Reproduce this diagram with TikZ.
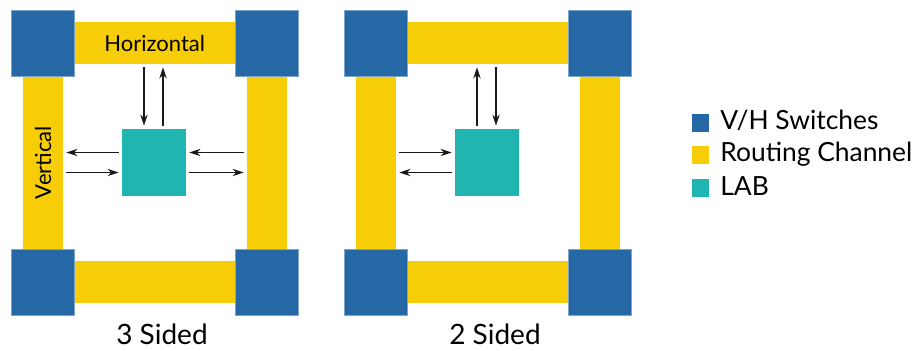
\documentclass[tikz,border=0pt]{standalone}
\usepackage{fontspec}
\setmainfont{Lato}
\usetikzlibrary{arrows.meta, positioning}

\definecolor{switchblue}{RGB}{38,104,165}
\definecolor{chanyellow}{RGB}{246,205,7}
\definecolor{labteal}{RGB}{32,181,176}

\begin{document}
\begin{tikzpicture}[
  x = 0.5pt, y = -0.5pt,
  switch/.style  = {rectangle, fill=switchblue, draw=switchblue!60!white, line width=0.3pt,
                    minimum width=31.5pt, minimum height=33pt, inner sep=0pt},
  hchan/.style   = {rectangle, fill=chanyellow, minimum width=112pt, minimum height=21pt,
                    inner sep=0pt, font=\fontsize{11}{13}\selectfont},
  vchan/.style   = {rectangle, fill=chanyellow, minimum width=20pt, minimum height=119pt,
                    inner sep=0pt, font=\fontsize{11}{13}\selectfont},
  lab/.style     = {rectangle, fill=labteal, minimum width=32pt, minimum height=33.5pt, inner sep=0pt},
  arr/.style     = {-{Stealth[length=5.5pt, width=3.6pt]}, line width=0.75pt, black!90,
                    shorten <=1.5pt, shorten >=1.5pt},
  key/.style     = {rectangle, minimum width=8.5pt, minimum height=9pt, inner sep=0pt},
  keytext/.style = {font=\fontsize{13.2}{16}\selectfont, inner sep=0pt, anchor=base west},
  caption/.style = {font=\fontsize{14}{16}\selectfont, inner sep=0pt, anchor=base}
]
\useasboundingbox (0,0) rectangle (912,351);

% ── 3 sided: routing channels ────────────────────────────────────────────────
\node[hchan] (topA)   at (154.75,43)  {Horizontal};
\node[hchan] (botA)   at (154.75,282) {};
\node[vchan] (leftA)  at (43,162.5)   {\rotatebox{90}{Vertical}};
\node[vchan] (rightA) at (267,162.5)  {};

% ── 3 sided: V/H switches ────────────────────────────────────────────────────
\node[switch] (swA1) at (43,43)     {};
\node[switch] (swA2) at (266.5,43)  {};
\node[switch] (swA3) at (43,282)    {};
\node[switch] (swA4) at (266.5,282) {};

% ── 3 sided: LAB and its connections ─────────────────────────────────────────
\node[lab] (labA) at (154,162.5) {};

\draw[arr] ([xshift=-5pt]labA.north |- topA.south) -- ([xshift=-5pt]labA.north);
\draw[arr] ([xshift=4.5pt]labA.north) -- ([xshift=4.5pt]labA.north |- topA.south);
\draw[arr] ([yshift=5pt]labA.west) -- ([yshift=5pt]labA.west -| leftA.east);
\draw[arr] ([yshift=-5pt]labA.west -| leftA.east) -- ([yshift=-5pt]labA.west);
\draw[arr] ([yshift=5pt]labA.east -| rightA.west) -- ([yshift=5pt]labA.east);
\draw[arr] ([yshift=-5pt]labA.east) -- ([yshift=-5pt]labA.east -| rightA.west);

\node[caption] (capA) at (162,345) {3 Sided};

% ── 2 sided: routing channels ────────────────────────────────────────────────
\node[hchan] (topB)   at (488,43)    {};
\node[hchan] (botB)   at (488,282)   {};
\node[vchan] (leftB)  at (376,162.5) {};
\node[vchan] (rightB) at (600,162.5) {};

% ── 2 sided: V/H switches ────────────────────────────────────────────────────
\node[switch] (swB1) at (376,43)  {};
\node[switch] (swB2) at (600,43)  {};
\node[switch] (swB3) at (376,282) {};
\node[switch] (swB4) at (600,282) {};

% ── 2 sided: LAB and its connections ─────────────────────────────────────────
\node[lab] (labB) at (487,162.5) {};

\draw[arr] ([xshift=-5pt]labB.north) -- ([xshift=-5pt]labB.north |- topB.south);
\draw[arr] ([xshift=4.5pt]labB.north |- topB.south) -- ([xshift=4.5pt]labB.north);
\draw[arr] ([yshift=5pt]labB.west -| leftB.east) -- ([yshift=5pt]labB.west);
\draw[arr] ([yshift=-5pt]labB.west) -- ([yshift=-5pt]labB.west -| leftB.east);

\node[caption] (capB) at (495,345) {2 Sided};

% ── Legend ───────────────────────────────────────────────────────────────────
\node[key, fill=switchblue] (keySw)  at (700.5,123)   {};
\node[key, fill=chanyellow] (keyCh)  at (700.5,155.5) {};
\node[key, fill=labteal]    (keyLab) at (700.5,188)   {};
\node[keytext] (txtSw)  at (720,130) {V/H Switches};
\node[keytext] (txtCh)  at (720,162) {Routing Channel};
\node[keytext] (txtLab) at (720,196) {LAB};
\end{tikzpicture}
\end{document}
